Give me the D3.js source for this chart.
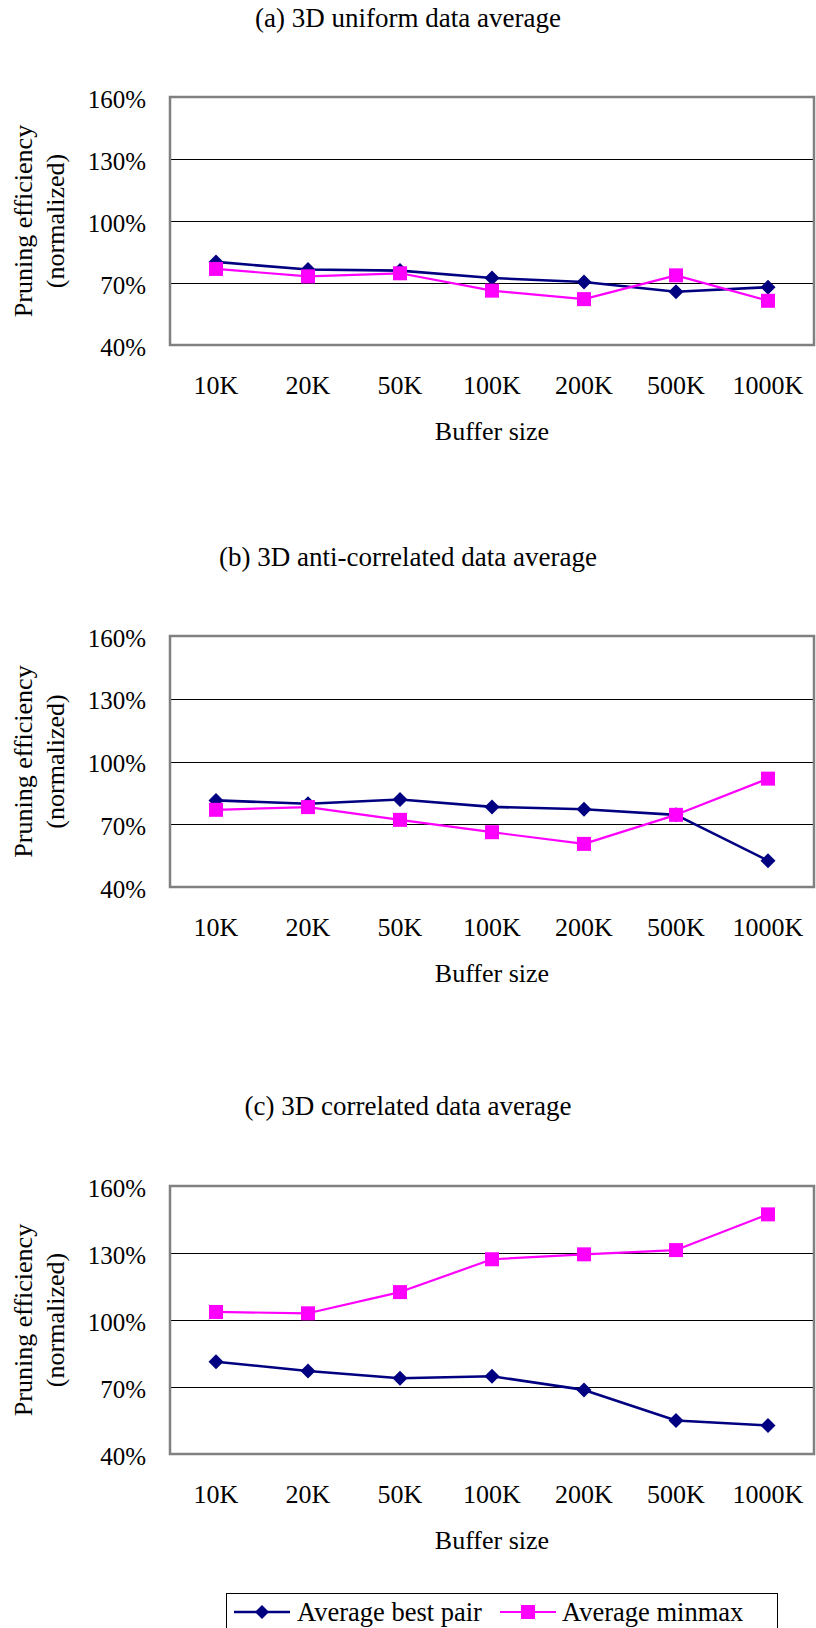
<!DOCTYPE html>
<html>
<head>
<meta charset="utf-8">
<script src="https://cdn.jsdelivr.net/npm/d3@7/dist/d3.min.js"></script>
<style>
  html, body { margin: 0; padding: 0; background: #fff; }
  svg { display: block; }
  text { font-family: "Liberation Serif", "Times New Roman", "DejaVu Serif", serif; fill: #000; }
</style>
</head>
<body>
<svg id="chart" width="816" height="1628"></svg>
<script>
// Buffer sizes on the x axis
const categories = ["10K", "20K", "50K", "100K", "200K", "500K", "1000K"];

// Pruning efficiency (normalized, %) per buffer size
const uniformBestPair = [80.2, 76.5, 76.0, 72.4, 70.5, 65.8, 68.0];
const uniformMinmax   = [76.8, 73.2, 74.7, 66.3, 62.2, 73.7, 61.4];

const antiBestPair = [81.4, 79.8, 81.8, 78.3, 77.2, 74.5, 52.6];
const antiMinmax   = [76.9, 78.2, 72.1, 66.2, 60.6, 74.5, 91.8];

const corrBestPair = [81.3, 77.2, 73.9, 74.8, 68.7, 55.0, 52.8];
const corrMinmax   = [103.6, 103.0, 112.5, 127.2, 129.4, 131.3, 147.3];

const yTicks = [40, 70, 100, 130, 160];

const panelTitles = [
  "(a) 3D uniform data average",
  "(b) 3D anti-correlated data average",
  "(c) 3D correlated data average"
];

const seriesNames = ["Average best pair", "Average minmax"];

// ---- styling / layout ----
const BLUE = "#000080";
const PINK = "#FF00FF";
const SERIF = "\"Liberation Serif\", \"Times New Roman\", serif";
const plotLeft = 170, plotRight = 814;
const panels = [
  { title: panelTitles[0], titleY: 27,   top: 97,   bottom: 345,  best: uniformBestPair, minmax: uniformMinmax },
  { title: panelTitles[1], titleY: 566,  top: 636,  bottom: 887,  best: antiBestPair,    minmax: antiMinmax },
  { title: panelTitles[2], titleY: 1115, top: 1186, bottom: 1454, best: corrBestPair,    minmax: corrMinmax }
];

const svg = d3.select("#chart");

const x = d3.scaleBand().domain(categories).range([plotLeft, plotRight]);
const xc = d => x(d) + x.bandwidth() / 2;

function drawDiamond(g, cx, cy, r) {
  g.append("path")
    .attr("d", `M${cx},${cy - r}L${cx + r},${cy}L${cx},${cy + r}L${cx - r},${cy}Z`)
    .attr("fill", BLUE);
}
function drawSquare(g, cx, cy, s) {
  g.append("rect")
    .attr("x", cx - s / 2).attr("y", cy - s / 2)
    .attr("width", s).attr("height", s)
    .attr("fill", PINK);
}

panels.forEach(p => {
  const g = svg.append("g");
  const y = d3.scaleLinear().domain([40, 160]).range([p.bottom, p.top]);

  // title
  g.append("text")
    .attr("x", 408).attr("y", p.titleY)
    .attr("text-anchor", "middle")
    .style("font-size", "27px")
    .text(p.title);

  // horizontal gridlines
  g.append("g")
    .selectAll("line")
    .data(yTicks.filter(t => t > 40 && t < 160))
    .join("line")
    .attr("x1", plotLeft).attr("x2", plotRight)
    .attr("y1", d => Math.round(y(d)) + 0.5).attr("y2", d => Math.round(y(d)) + 0.5)
    .attr("stroke", "#000").attr("stroke-width", 1);

  // plot border
  g.append("rect")
    .attr("x", plotLeft).attr("y", p.top)
    .attr("width", plotRight - plotLeft).attr("height", p.bottom - p.top)
    .attr("fill", "none").attr("stroke", "#808080").attr("stroke-width", 2.5);

  // y axis labels
  const yAxis = d3.axisLeft(y).tickValues(yTicks).tickSize(0).tickPadding(24)
    .tickFormat(d => d + "%");
  const ya = g.append("g").attr("transform", `translate(${plotLeft},0)`).call(yAxis);
  ya.select(".domain").remove();
  ya.selectAll("text")
    .attr("dy", "0.4em")
    .style("font-size", "25px")
    .style("font-family", SERIF)
    .attr("fill", "#000");

  // x axis labels
  const xAxis = d3.axisBottom(x).tickSize(0).tickPadding(0);
  const xa = g.append("g").attr("transform", `translate(0,${p.bottom})`).call(xAxis);
  xa.select(".domain").remove();
  xa.selectAll("text")
    .attr("y", 49).attr("dy", 0)
    .style("font-size", "26px")
    .style("font-family", SERIF)
    .attr("fill", "#000");

  // x axis title
  g.append("text")
    .attr("x", (plotLeft + plotRight) / 2).attr("y", p.bottom + 95)
    .attr("text-anchor", "middle")
    .style("font-size", "26px")
    .text("Buffer size");

  // y axis title (two lines, rotated)
  const midY = (p.top + p.bottom) / 2;
  g.append("text")
    .attr("transform", `translate(32,${midY}) rotate(-90)`)
    .attr("text-anchor", "middle")
    .style("font-size", "26px")
    .text("Pruning efficiency");
  g.append("text")
    .attr("transform", `translate(64,${midY}) rotate(-90)`)
    .attr("text-anchor", "middle")
    .style("font-size", "26px")
    .text("(normalized)");

  const line = d3.line().x((d, i) => xc(categories[i])).y(d => y(d));

  // best pair series
  g.append("path").datum(p.best)
    .attr("d", line).attr("fill", "none")
    .attr("stroke", BLUE).attr("stroke-width", 2.6).attr("stroke-linejoin", "round");
  // minmax series
  g.append("path").datum(p.minmax)
    .attr("d", line).attr("fill", "none")
    .attr("stroke", PINK).attr("stroke-width", 2.2).attr("stroke-linejoin", "round");

  const mk = g.append("g");
  p.best.forEach((v, i) => drawDiamond(mk, xc(categories[i]), y(v), 7.5));
  p.minmax.forEach((v, i) => drawSquare(mk, xc(categories[i]), y(v), 14));
});

// legend
const lg = svg.append("g");
lg.append("rect")
  .attr("x", 226.5).attr("y", 1593.5)
  .attr("width", 551).attr("height", 60)
  .attr("fill", "#fff").attr("stroke", "#000").attr("stroke-width", 1);

lg.append("line").attr("x1", 234).attr("x2", 290).attr("y1", 1612).attr("y2", 1612)
  .attr("stroke", BLUE).attr("stroke-width", 2.6);
drawDiamond(lg, 262, 1612, 7);
lg.append("text").attr("x", 297).attr("y", 1621)
  .style("font-size", "26.5px").text(seriesNames[0]);

lg.append("line").attr("x1", 500).attr("x2", 556).attr("y1", 1612).attr("y2", 1612)
  .attr("stroke", PINK).attr("stroke-width", 2.2);
drawSquare(lg, 528, 1612, 14);
lg.append("text").attr("x", 562).attr("y", 1621)
  .style("font-size", "26.5px").text(seriesNames[1]);
</script>
</body>
</html>
